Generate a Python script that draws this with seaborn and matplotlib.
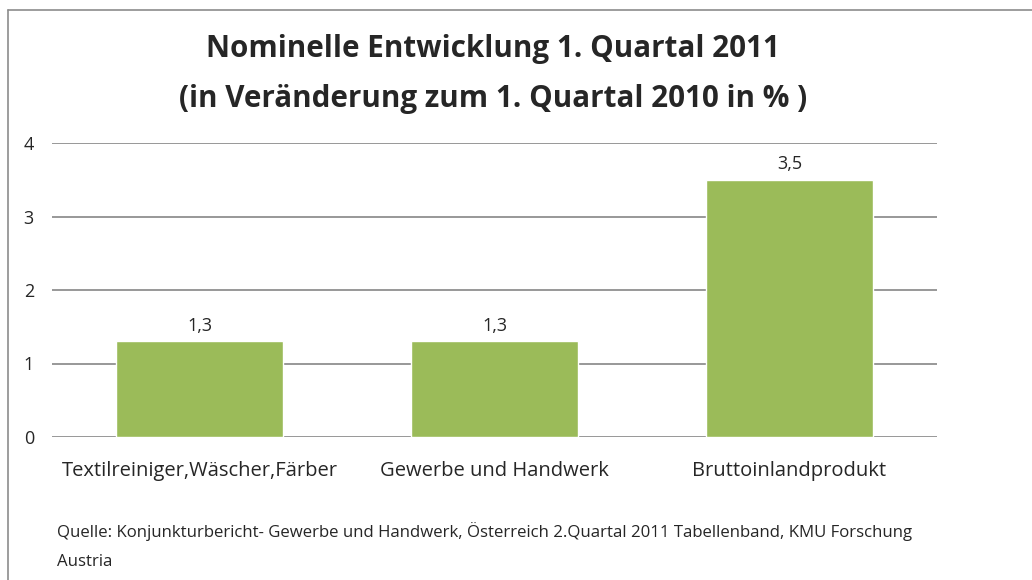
import matplotlib
matplotlib.use("Agg")
import matplotlib.pyplot as plt
import seaborn as sns
import pandas as pd

categories = ["Textilreiniger,Wäscher,Färber", "Gewerbe und Handwerk", "Bruttoinlandprodukt"]
values = [1.3, 1.3, 3.5]
value_labels = ["1,3", "1,3", "3,5"]
y_ticks = [0, 1, 2, 3, 4]

title = "Nominelle Entwicklung 1. Quartal 2011\n(in Veränderung zum 1. Quartal 2010 in % )"
source = ("Quelle: Konjunkturbericht- Gewerbe und Handwerk, Österreich 2.Quartal 2011 Tabellenband, KMU Forschung\n"
          "Austria")

sns.set_style("white")
plt.rcParams["font.family"] = ["Open Sans", "DejaVu Sans"]

df = pd.DataFrame({"cat": categories, "val": values})

fig = plt.figure(figsize=(10.32, 5.8), dpi=100)
ax = fig.add_axes([52 / 1032, 1 - 437 / 580, 885 / 1032, 294 / 580])

sns.barplot(data=df, x="cat", y="val", color="#9BBB59", width=0.567,
            saturation=1, ax=ax, zorder=3)

ax.set_ylim(0, 4)
ax.set_xlim(-0.5, 2.5)
ax.set_yticks(y_ticks)
ax.set_yticklabels([str(t) for t in y_ticks], fontsize=13)
ax.yaxis.grid(True, color="#868686", linewidth=1.2, zorder=0)
ax.tick_params(axis="y", length=0, pad=13)
ax.tick_params(axis="x", length=0, pad=17, labelsize=14.5)
ax.set_xlabel("")
ax.set_ylabel("")
for s in ax.spines.values():
    s.set_visible(False)

for i, (v, lab) in enumerate(zip(values, value_labels)):
    ax.annotate(lab, (i, v), xytext=(0, 5), textcoords="offset points",
                ha="center", va="bottom", fontsize=13)

fig.text(493 / 1032, 1 - 74 / 580, title, ha="center", va="center",
         fontsize=21.3, fontweight="bold", linespacing=1.85)
fig.text(57 / 1032, 1 - 546 / 580, source, ha="left", va="center",
         fontsize=12.1, linespacing=2.05)

# chart frame (left and top edges visible)
fig.add_artist(plt.Line2D([8 / 1032, 8 / 1032], [0, 1 - 10 / 580], color="#8c8c8c", lw=1.2))
fig.add_artist(plt.Line2D([8 / 1032, 1], [1 - 10 / 580, 1 - 10 / 580], color="#8c8c8c", lw=1.2))

fig.savefig("out.png", dpi=100)
